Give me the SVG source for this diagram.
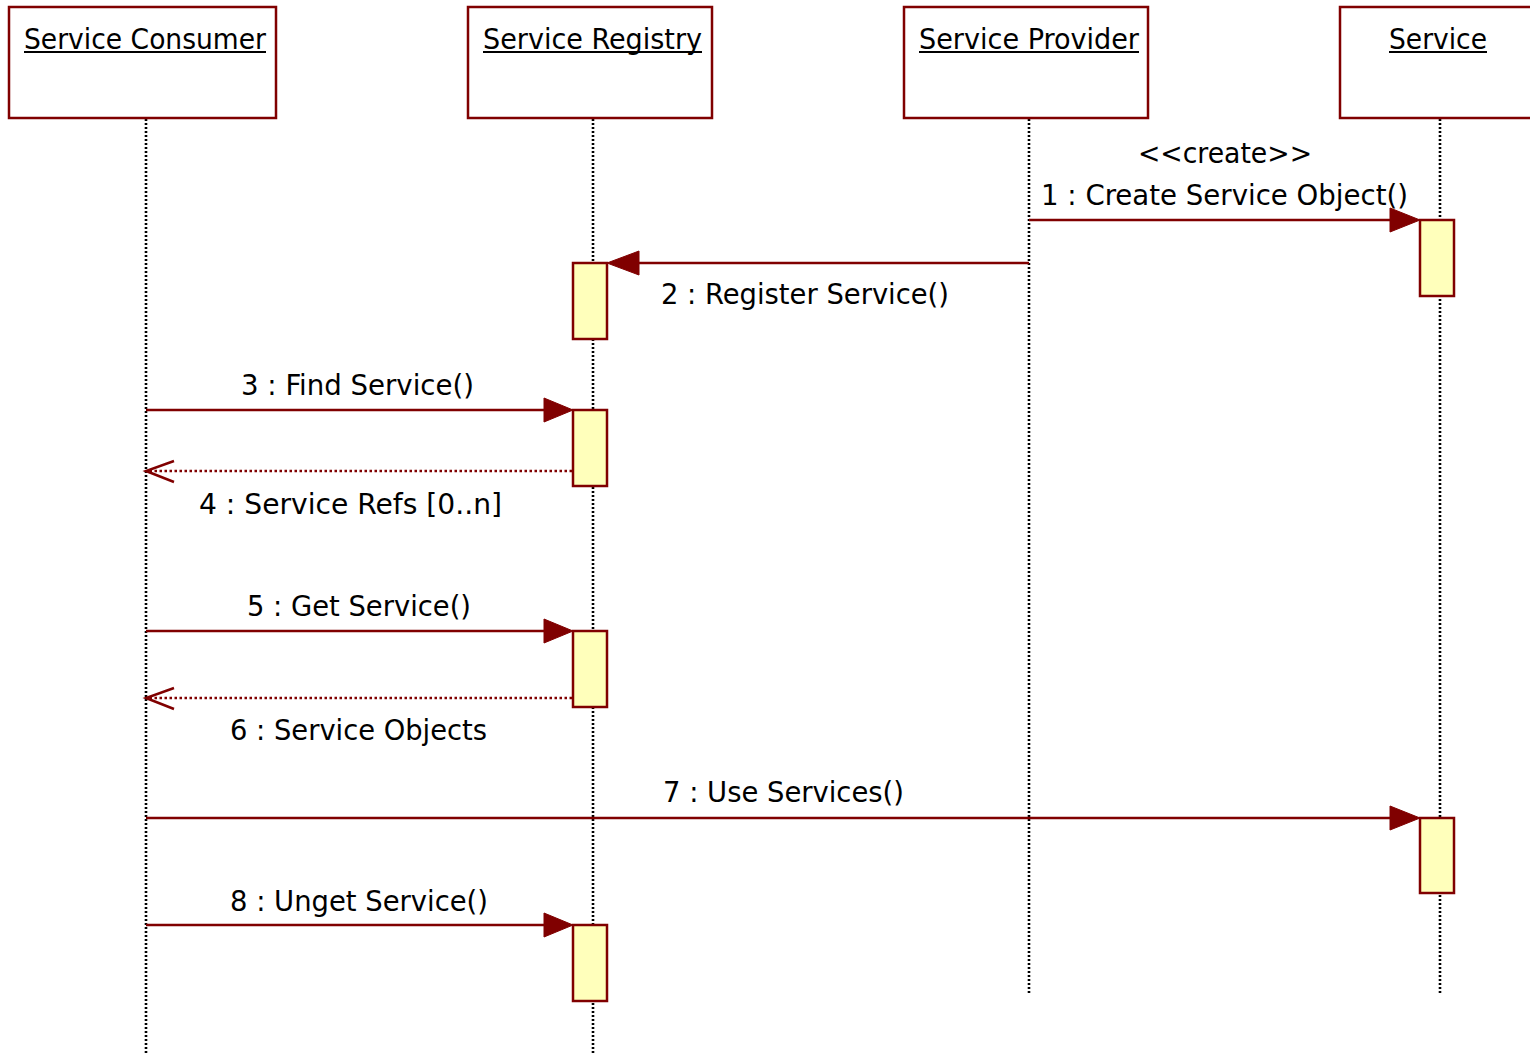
<svg xmlns="http://www.w3.org/2000/svg" width="1530" height="1054" viewBox="0 0 1530 1054">
<defs>
<style>
.box{fill:#fff;stroke:#800000;stroke-width:2.5}
.act{fill:#ffffbb;stroke:#800000;stroke-width:2.5}
.life{stroke:#000;stroke-width:2.6;stroke-dasharray:2 2;fill:none}
.msg{stroke:#800000;stroke-width:2.5;fill:none}
.ret{stroke:#800000;stroke-width:2.5;stroke-dasharray:2.5 2.5;fill:none}
.head{fill:#800000;stroke:#800000;stroke-width:1}
.open{fill:none;stroke:#800000;stroke-width:2.5}
.t{font-family:"DejaVu Sans Condensed","DejaVu Sans",sans-serif;font-size:29px;fill:#000}
.ul{stroke:#000;stroke-width:2}
</style>
</defs>
<rect width="1530" height="1054" fill="#fff"/>
<g id="lifelines">
<line class="life" x1="146" y1="119" x2="146" y2="1054"/>
<line class="life" x1="593" y1="119" x2="593" y2="1054"/>
<line class="life" x1="1029" y1="119" x2="1029" y2="995"/>
<line class="life" x1="1440" y1="119" x2="1440" y2="995"/>
</g>
<g id="node-consumer">
<rect class="box" x="9" y="7" width="267" height="111"/>
<text class="t" x="24" y="49" textLength="242" lengthAdjust="spacingAndGlyphs">Service Consumer</text>
<line class="ul" x1="24" y1="52" x2="266" y2="52"/>
</g>
<g id="node-registry">
<rect class="box" x="468" y="7" width="244" height="111"/>
<text class="t" x="483" y="49" textLength="219" lengthAdjust="spacingAndGlyphs">Service Registry</text>
<line class="ul" x1="483" y1="52" x2="702" y2="52"/>
</g>
<g id="node-provider">
<rect class="box" x="904" y="7" width="244" height="111"/>
<text class="t" x="919" y="49" textLength="220" lengthAdjust="spacingAndGlyphs">Service Provider</text>
<line class="ul" x1="919" y1="52" x2="1139" y2="52"/>
</g>
<g id="node-service">
<rect class="box" x="1340" y="7" width="200" height="111"/>
<text class="t" x="1389" y="49" textLength="98" lengthAdjust="spacingAndGlyphs">Service</text>
<line class="ul" x1="1389" y1="52" x2="1487" y2="52"/>
</g>
<g id="activations">
<rect class="act" x="1420" y="220" width="34" height="76"/>
<rect class="act" x="573" y="263" width="34" height="76"/>
<rect class="act" x="573" y="410" width="34" height="76"/>
<rect class="act" x="573" y="631" width="34" height="76"/>
<rect class="act" x="1420" y="818" width="34" height="75"/>
<rect class="act" x="573" y="925" width="34" height="76"/>
</g>
<g id="connectors">
<line class="msg" x1="1029" y1="220" x2="1392" y2="220"/>
<polygon class="head" points="1420,220 1390,208 1390,232"/>
<line class="msg" x1="1029" y1="263" x2="638" y2="263"/>
<polygon class="head" points="607,263 639,251 639,275"/>
<line class="msg" x1="146" y1="410" x2="546" y2="410"/>
<polygon class="head" points="573,410 544,398 544,422"/>
<line class="ret" x1="572" y1="471" x2="148" y2="471"/>
<polyline class="open" points="174,461 146,471 174,482"/>
<line class="msg" x1="146" y1="631" x2="546" y2="631"/>
<polygon class="head" points="573,631 544,619 544,643"/>
<line class="ret" x1="572" y1="698" x2="148" y2="698"/>
<polyline class="open" points="174,688 146,698 174,709"/>
<line class="msg" x1="146" y1="818" x2="1392" y2="818"/>
<polygon class="head" points="1420,818 1390,806 1390,830"/>
<line class="msg" x1="146" y1="925" x2="546" y2="925"/>
<polygon class="head" points="573,925 544,913 544,937"/>
</g>
<g id="labels">
<text class="t" x="1138" y="163" textLength="174" lengthAdjust="spacingAndGlyphs">&lt;&lt;create&gt;&gt;</text>
<text class="t" x="1041" y="205" textLength="367" lengthAdjust="spacingAndGlyphs">1 : Create Service Object()</text>
<text class="t" x="661" y="304" textLength="288" lengthAdjust="spacingAndGlyphs">2 : Register Service()</text>
<text class="t" x="241" y="395" textLength="233" lengthAdjust="spacingAndGlyphs">3 : Find Service()</text>
<text class="t" x="199" y="514" textLength="303" lengthAdjust="spacingAndGlyphs">4 : Service Refs [0..n]</text>
<text class="t" x="247" y="616" textLength="224" lengthAdjust="spacingAndGlyphs">5 : Get Service()</text>
<text class="t" x="230" y="740" textLength="257" lengthAdjust="spacingAndGlyphs">6 : Service Objects</text>
<text class="t" x="663" y="802" textLength="241" lengthAdjust="spacingAndGlyphs">7 : Use Services()</text>
<text class="t" x="230" y="911" textLength="258" lengthAdjust="spacingAndGlyphs">8 : Unget Service()</text>
</g>
</svg>
